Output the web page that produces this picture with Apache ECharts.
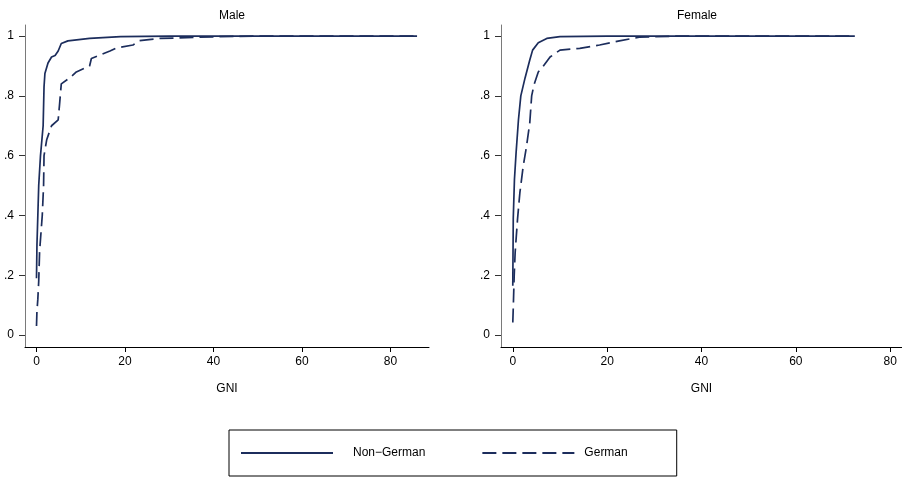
<!DOCTYPE html>
<html>
<head>
<meta charset="utf-8">
<script src="https://cdn.jsdelivr.net/npm/echarts@6/dist/echarts.min.js"></script>
<style>html,body{margin:0;padding:0;background:#fff}#c{width:902px;height:477px}</style>
</head>
<body>
<div id="c"></div>
<script>
const panelTitles = ['Male', 'Female'];
const seriesNames = ['Non\u2212German', 'German'];
const xTicks = [0, 20, 40, 60, 80];
const yTicks = [0, 0.2, 0.4, 0.6, 0.8, 1];
const xAxisName = 'GNI';

const maleNonGerman = [[0,0.19],[0.1,0.3],[0.3,0.4],[0.5,0.5],[0.9,0.6],[1.5,0.7],[1.7,0.83],[1.9,0.875],[2.6,0.91],[3.4,0.93],[4.2,0.935],[4.9,0.95],[5.6,0.975],[7.1,0.984],[12,0.992],[19,0.998],[30,1],[86,1]];
const maleGerman = [[0,0.03],[0.1,0.08],[0.3,0.12],[0.5,0.18],[0.7,0.28],[1.3,0.4],[1.6,0.5],[1.7,0.6],[2.3,0.653],[3.4,0.70],[4.9,0.72],[5.2,0.77],[5.6,0.84],[7.5,0.86],[9,0.88],[12,0.9],[12.4,0.925],[16.6,0.95],[18,0.96],[21.8,0.97],[23.3,0.985],[27.9,0.992],[41.4,0.998],[50,1],[86,1]];
const femaleNonGerman = [[0,0.165],[0.1,0.39],[0.35,0.52],[0.7,0.61],[1.2,0.72],[1.7,0.80],[2.6,0.86],[3.6,0.92],[4.2,0.953],[5.4,0.978],[7.2,0.992],[10,0.998],[20,1],[72.5,1]];
const femaleGerman = [[0,0.042],[0.1,0.09],[0.3,0.2],[0.5,0.276],[1.0,0.387],[1.5,0.476],[2.2,0.564],[2.9,0.63],[3.6,0.71],[4.0,0.80],[4.5,0.837],[5.4,0.88],[6.4,0.898],[7.9,0.93],[10,0.953],[14.2,0.959],[18.4,0.97],[22.6,0.984],[26.8,0.996],[35,1],[72.5,1]];

const FONT = "'Liberation Sans', Arial, Helvetica, sans-serif";
const LINE = '#1c2d5c';
const chart = echarts.init(document.getElementById('c'), null, {renderer: 'canvas'});

function xAxis(gi, min, max) {
  return {
    type: 'value', gridIndex: gi, min: min, max: max,
    name: xAxisName, nameLocation: 'middle', nameGap: 36,
    nameTextStyle: {color: '#000', fontSize: 12, fontFamily: FONT},
    axisLine: {show: true, onZero: false, lineStyle: {color: '#000', width: 1}},
    axisTick: {show: true, length: 5, customValues: xTicks, lineStyle: {color: '#000'}},
    axisLabel: {customValues: xTicks, color: '#000', fontSize: 12, fontFamily: FONT, margin: 9},
    splitLine: {show: false}
  };
}
function yAxis(gi) {
  return {
    type: 'value', gridIndex: gi, min: -0.04, max: 1.037,
    axisLine: {show: true, onZero: false, lineStyle: {color: '#7a7a7a', width: 1}},
    axisTick: {show: true, length: 6, customValues: yTicks, lineStyle: {color: '#333'}},
    axisLabel: {customValues: yTicks, color: '#000', fontSize: 12, fontFamily: FONT, margin: 11,
      formatter: v => v === 0 ? '0' : v === 1 ? '1' : String(+v.toFixed(1)).replace(/^0/, '')},
    splitLine: {show: false}
  };
}
function line(name, data, gi, dashed) {
  return {
    name: name, type: 'line', xAxisIndex: gi, yAxisIndex: gi, data: data,
    symbol: 'none', showSymbol: false, animation: false, silent: true,
    lineStyle: {color: LINE, width: 1.7, type: dashed ? [14, 6] : 'solid'},
    itemStyle: {color: LINE}
  };
}

chart.setOption({
  animation: false,
  backgroundColor: '#fff',
  title: [
    {text: panelTitles[0], left: 227, top: 5, textAlign: 'center', textStyle: {fontSize: 12, fontWeight: 'normal', color: '#000', fontFamily: FONT}},
    {text: panelTitles[1], left: 692, top: 5, textAlign: 'center', textStyle: {fontSize: 12, fontWeight: 'normal', color: '#000', fontFamily: FONT}}
  ],
  grid: [
    {left: 25, top: 25, width: 404, height: 322},
    {left: 501, top: 25, width: 404, height: 322}
  ],
  xAxis: [xAxis(0, -2.6, 88.7), xAxis(1, -2.5, 82.5)],
  yAxis: [yAxis(0), yAxis(1)],
  legend: {
    data: [
      {name: seriesNames[0], textStyle: {padding: [0, 0, 0, 15]}},
      {name: seriesNames[1], textStyle: {padding: [0, 0, 0, 5]}}
    ],
    left: 229, top: 430,
    orient: 'horizontal', itemWidth: 92, itemHeight: 14, itemGap: 56,
    padding: [17, 49, 17, 11],
    borderColor: '#000', borderWidth: 1,
    itemStyle: {opacity: 0},
    textStyle: {color: '#000', fontSize: 12, fontFamily: FONT},
    selectedMode: false
  },
  series: [
    line(seriesNames[0], maleNonGerman, 0, false),
    line(seriesNames[1], maleGerman, 0, true),
    line(seriesNames[0], femaleNonGerman, 1, false),
    line(seriesNames[1], femaleGerman, 1, true)
  ]
});
</script>
</body>
</html>
